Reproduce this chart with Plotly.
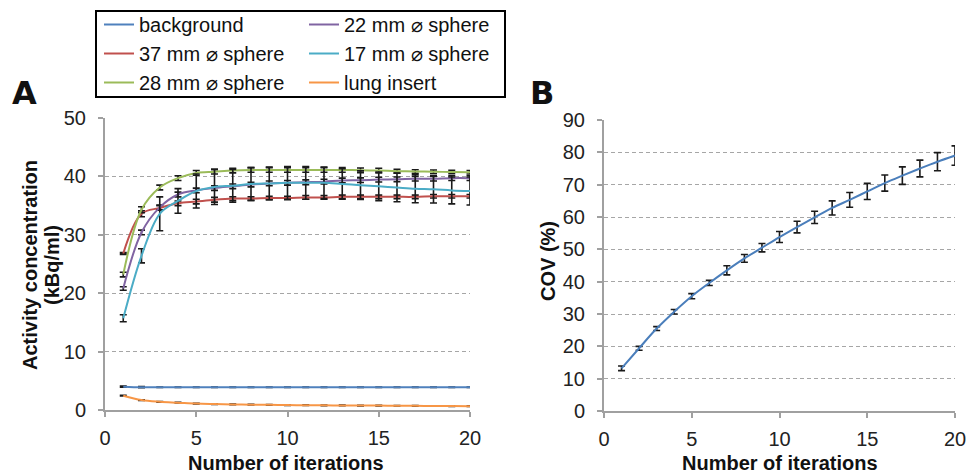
import plotly.graph_objects as go

iterations = list(range(1, 21))

background = [4.0, 3.9, 3.9, 3.9, 3.9, 3.9, 3.9, 3.9, 3.9, 3.9, 3.9, 3.9, 3.9, 3.9, 3.9, 3.9, 3.9, 3.9, 3.9, 3.9]
background_err = [0.1, 0.1, 0.05, 0.05, 0.05, 0.05, 0.05, 0.05, 0.05, 0.05, 0.05, 0.05, 0.05, 0.05, 0.05, 0.05, 0.05, 0.05, 0.05, 0.05]
sphere22 = [20.8, 30.4, 34.7, 36.9, 37.6, 38.0, 38.3, 38.6, 38.8, 38.9, 39.0, 39.1, 39.3, 39.35, 39.45, 39.5, 39.6, 39.6, 39.7, 39.7]
sphere22_err = [0.3, 0.4, 0.4, 0.4, 0.4, 0.4, 0.4, 0.4, 0.4, 0.4, 0.4, 0.4, 0.4, 0.4, 0.4, 0.4, 0.4, 0.4, 0.4, 0.4]
sphere37 = [26.8, 33.6, 34.6, 35.4, 35.7, 36.0, 36.2, 36.2, 36.3, 36.3, 36.4, 36.4, 36.5, 36.5, 36.5, 36.5, 36.5, 36.6, 36.6, 36.6]
sphere37_err = [0.15, 0.5, 0.4, 0.4, 0.4, 0.4, 0.3, 0.3, 0.3, 0.3, 0.3, 0.3, 0.3, 0.3, 0.3, 0.3, 0.3, 0.3, 0.3, 0.3]
sphere17 = [15.7, 26.4, 33.6, 35.8, 37.5, 38.2, 38.4, 38.7, 38.8, 38.9, 38.9, 38.9, 38.7, 38.5, 38.3, 38.1, 37.9, 37.8, 37.6, 37.5]
sphere17_err = [0.6, 1.2, 2.9, 2.1, 2.9, 3.0, 2.8, 2.8, 2.8, 2.8, 2.8, 2.7, 2.6, 2.45, 2.45, 2.45, 2.4, 2.35, 2.3, 2.4]
sphere28 = [23.2, 34.3, 38.1, 39.7, 40.6, 40.8, 41.0, 41.1, 41.1, 41.1, 41.1, 41.1, 41.1, 41.05, 41.0, 40.9, 40.85, 40.8, 40.75, 40.7]
sphere28_err = [0.4, 0.5, 0.4, 0.4, 0.4, 0.4, 0.4, 0.4, 0.4, 0.4, 0.4, 0.4, 0.4, 0.4, 0.4, 0.3, 0.3, 0.3, 0.3, 0.3]
lung = [2.45, 1.7, 1.4, 1.25, 1.1, 1.02, 0.96, 0.92, 0.88, 0.85, 0.82, 0.8, 0.78, 0.76, 0.75, 0.73, 0.71, 0.69, 0.67, 0.65]
lung_err = [0.05] * 20

cov = [13.2, 19.4, 25.5, 30.7, 35.5, 39.6, 43.5, 47.2, 50.5, 53.8, 56.9, 59.9, 62.8, 65.3, 67.9, 70.5, 72.8, 75.0, 77.1, 79.0]
cov_err = [0.7, 0.6, 0.6, 0.7, 0.8, 0.8, 1.4, 1.2, 1.3, 1.7, 1.8, 1.9, 2.2, 2.3, 2.5, 2.5, 2.7, 2.6, 2.8, 3.0]

# (name, values, errors, colour, legend column)
series_a = [
    ("background", background, background_err, "#4F81BD", "legend"),
    ("37 mm \u2300 sphere", sphere37, sphere37_err, "#C0504D", "legend"),
    ("28 mm \u2300 sphere", sphere28, sphere28_err, "#9BBB59", "legend"),
    ("22 mm \u2300 sphere", sphere22, sphere22_err, "#8064A2", "legend2"),
    ("17 mm \u2300 sphere", sphere17, sphere17_err, "#4BACC6", "legend2"),
    ("lung insert", lung, lung_err, "#F79646", "legend2"),
]

FONT = "Liberation Sans, Arial, sans-serif"

fig = go.Figure()
for name, vals, errs, color, leg in series_a:
    fig.add_trace(go.Scatter(
        x=iterations, y=vals, name=name, mode="lines", legend=leg,
        line=dict(color=color, width=2, shape="spline", smoothing=1),
        error_y=dict(type="data", array=errs, visible=True, color="#1a1a1a", thickness=1.6, width=3.5),
        xaxis="x", yaxis="y",
    ))

fig.add_trace(go.Scatter(
    x=iterations, y=cov, name="COV", mode="lines", showlegend=False,
    line=dict(color="#4A7EBB", width=2, shape="spline", smoothing=1),
    error_y=dict(type="data", array=cov_err, visible=True, color="#1a1a1a", thickness=1.6, width=3.5),
    xaxis="x2", yaxis="y2",
))

W, H = 969, 474

def px_x(p):
    return p / W

def px_y(p):
    return (H - p) / H

axis_common = dict(
    showline=True, linecolor="#a0a0a0", linewidth=2,
    ticks="outside", ticklen=5, tickcolor="#a0a0a0", tickwidth=1.5,
    tickfont=dict(family=FONT, size=20, color="#222222"),
    zeroline=False, automargin=False,
)

legend_common = dict(
    orientation="v", yanchor="top", xanchor="left",
    bgcolor="rgba(0,0,0,0)", borderwidth=0,
    font=dict(family=FONT, size=20, color="#111111"),
    traceorder="normal", tracegroupgap=0,
)

def label(text, x, y, size=20, angle=0, family=FONT):
    return dict(text=text, x=px_x(x), y=px_y(y), xref="paper", yref="paper",
                xanchor="center", yanchor="middle", showarrow=False, textangle=angle,
                font=dict(family=family, size=size, color="#111111"))

fig.update_layout(
    width=W, height=H,
    margin=dict(l=0, r=0, t=0, b=0),
    paper_bgcolor="white", plot_bgcolor="white",
    font=dict(family=FONT, size=20, color="#111111"),
    xaxis=dict(domain=[px_x(105), px_x(470)], range=[0, 20], tickvals=[0, 5, 10, 15, 20],
               showgrid=False, anchor="y", ticklabelstandoff=4, **axis_common),
    yaxis=dict(domain=[px_y(410), px_y(118)], range=[0, 50], tickvals=[0, 10, 20, 30, 40, 50],
               showgrid=True, gridcolor="#a6a6a6", griddash="4px,3px", gridwidth=1.2,
               anchor="x", ticklabelstandoff=8, **axis_common),
    xaxis2=dict(domain=[px_x(604), px_x(955)], range=[0, 20], tickvals=[0, 5, 10, 15, 20],
                showgrid=False, anchor="y2", ticklabelstandoff=4, **axis_common),
    yaxis2=dict(domain=[px_y(411), px_y(120)], range=[0, 90], tickvals=list(range(0, 91, 10)),
                showgrid=True, gridcolor="#a6a6a6", griddash="4px,3px", gridwidth=1.2,
                anchor="x2", ticklabelstandoff=8, **axis_common),
    legend=dict(x=px_x(99), y=px_y(5), **legend_common),
    legend2=dict(x=px_x(304), y=px_y(5), **legend_common),
    shapes=[
        dict(type="rect", xref="paper", yref="paper",
             x0=px_x(96), x1=px_x(505), y0=px_y(97), y1=px_y(11),
             line=dict(color="black", width=2), fillcolor="rgba(0,0,0,0)", layer="below"),
    ],
    annotations=[
        label("<b>A</b>", 24, 93, size=32, family="DejaVu Sans, Arial"),
        label("<b>B</b>", 542, 93, size=32, family="DejaVu Sans, Arial"),
        label("<b>Activity concentration</b>", 30, 265, angle=-90),
        label("<b>(kBq/ml)</b>", 52, 265, angle=-90),
        label("<b>COV (%)</b>", 548, 261, angle=-90),
        label("<b>Number of iterations</b>", 286, 463),
        label("<b>Number of iterations</b>", 780, 463),
    ],
)

fig.write_html("out.html")
